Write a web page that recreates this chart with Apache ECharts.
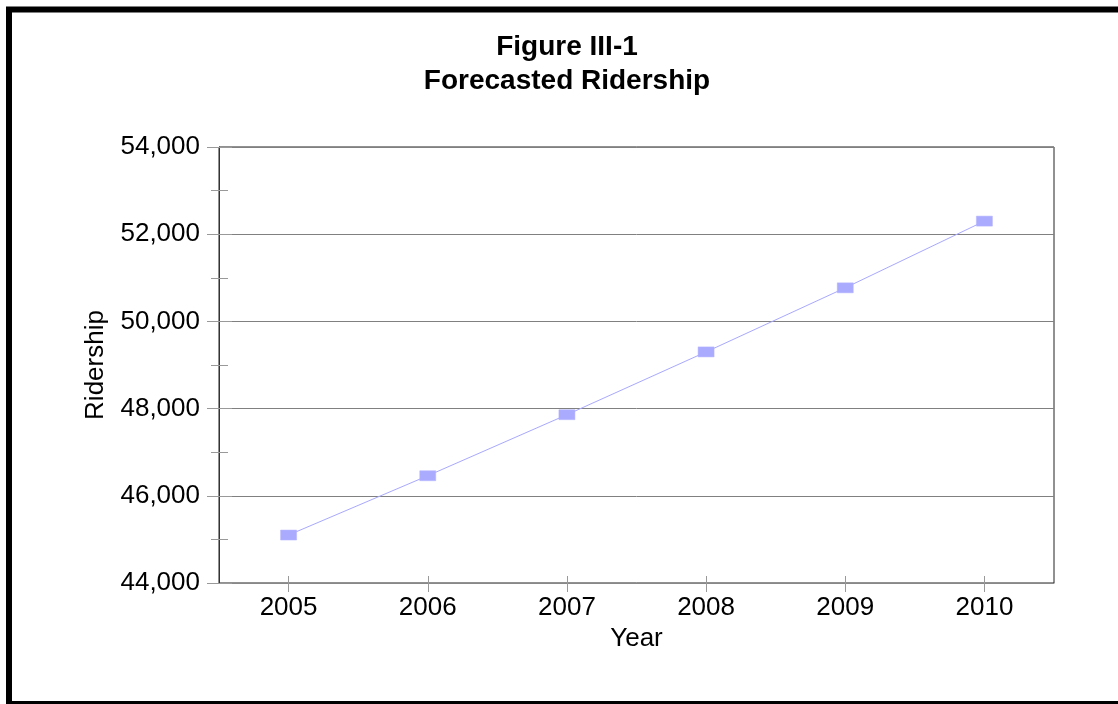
<!DOCTYPE html>
<html>
<head>
<meta charset="utf-8">
<title>Forecasted Ridership</title>
<script src="https://cdn.jsdelivr.net/npm/echarts@6/dist/echarts.min.js"></script>
<style>
  html, body { margin: 0; padding: 0; background: #ffffff; }
  #chart { width: 1118px; height: 704px; }
</style>
</head>
<body>
<div id="chart"></div>
<script>
// Forecasted annual ridership, 2005-2010
const years = ['2005', '2006', '2007', '2008', '2009', '2010'];
const ridership = [45100, 46460, 47860, 49300, 50770, 52300];
const yMin = 44000;
const yMax = 54000;
const yStep = 2000;

const FONT = '"Liberation Sans", Arial, sans-serif';
const fmt = v => String(v).replace(/\B(?=(\d{3})+(?!\d))/g, ',');

const chart = echarts.init(document.getElementById('chart'), null, { renderer: 'canvas' });

chart.setOption({
  backgroundColor: '#ffffff',
  animation: false,
  title: {
    text: 'Figure III-1\nForecasted Ridership',
    left: 562,
    textAlign: 'center',
    top: 25,
    textStyle: {
      fontFamily: FONT,
      fontSize: 28,
      fontWeight: 'bold',
      color: '#000000',
      lineHeight: 34
    }
  },
  graphic: [{
    type: 'rect',
    shape: { x: 9, y: 9.5, width: 1200, height: 694.5 },
    style: { fill: 'none', stroke: '#000000', lineWidth: 6 },
    silent: true
  }],
  grid: {
    left: 219,
    right: 64,
    top: 147,
    bottom: 121,
    show: true,
    borderColor: '#222222',
    borderWidth: 1,
    backgroundColor: 'transparent'
  },
  xAxis: [{
    type: 'category',
    data: years,
    boundaryGap: true,
    name: 'Year',
    nameLocation: 'middle',
    nameGap: 40,
    nameTextStyle: { fontFamily: FONT, fontSize: 26, color: '#000000' },
    axisLine: { show: true, lineStyle: { color: '#888888', width: 1 } },
    axisTick: { show: true, alignWithLabel: true, length: 9, lineStyle: { color: '#999999' } },
    axisLabel: { fontFamily: FONT, fontSize: 26, color: '#000000', margin: 12 },
    splitLine: { show: false }
  }, {
    type: 'category',
    data: years,
    position: 'bottom',
    boundaryGap: true,
    axisLine: { show: false },
    axisTick: { show: true, inside: true, alignWithLabel: true, length: 7, lineStyle: { color: '#999999' } },
    axisLabel: { show: false },
    splitLine: { show: false }
  }],
  yAxis: [{
    type: 'value',
    min: yMin,
    max: yMax,
    interval: yStep,
    position: 'left',
    name: 'Ridership',
    nameLocation: 'middle',
    nameGap: 110,
    nameRotate: 90,
    nameTextStyle: { fontFamily: FONT, fontSize: 26, color: '#000000' },
    axisLine: { show: true, lineStyle: { color: '#333333', width: 1 } },
    axisTick: { show: true, length: 12, lineStyle: { color: '#999999' } },
    minorTick: { show: true, splitNumber: 2, length: 8, lineStyle: { color: '#999999' } },
    axisLabel: { fontFamily: FONT, fontSize: 26, color: '#000000', margin: 19, formatter: fmt },
    splitLine: { show: true, lineStyle: { color: '#808080', width: 1 } }
  }, {
    type: 'value',
    min: yMin,
    max: yMax,
    interval: yStep,
    position: 'left',
    offset: 0,
    axisLine: { show: false },
    axisTick: { show: true, inside: true, length: 13, lineStyle: { color: '#999999' } },
    minorTick: { show: true, splitNumber: 2, length: 9, lineStyle: { color: '#999999' } },
    axisLabel: { show: false },
    splitLine: { show: false }
  }],
  series: [{
    type: 'line',
    name: 'Ridership',
    data: ridership,
    xAxisIndex: 0,
    yAxisIndex: 0,
    symbol: 'rect',
    symbolSize: [16, 10],
    showAllSymbol: true,
    itemStyle: { color: '#aaaaff', borderColor: '#b4b4ff', borderWidth: 0.5 },
    lineStyle: { color: '#a8a8ff', width: 1 },
    z: 5
  }]
});
</script>
</body>
</html>
